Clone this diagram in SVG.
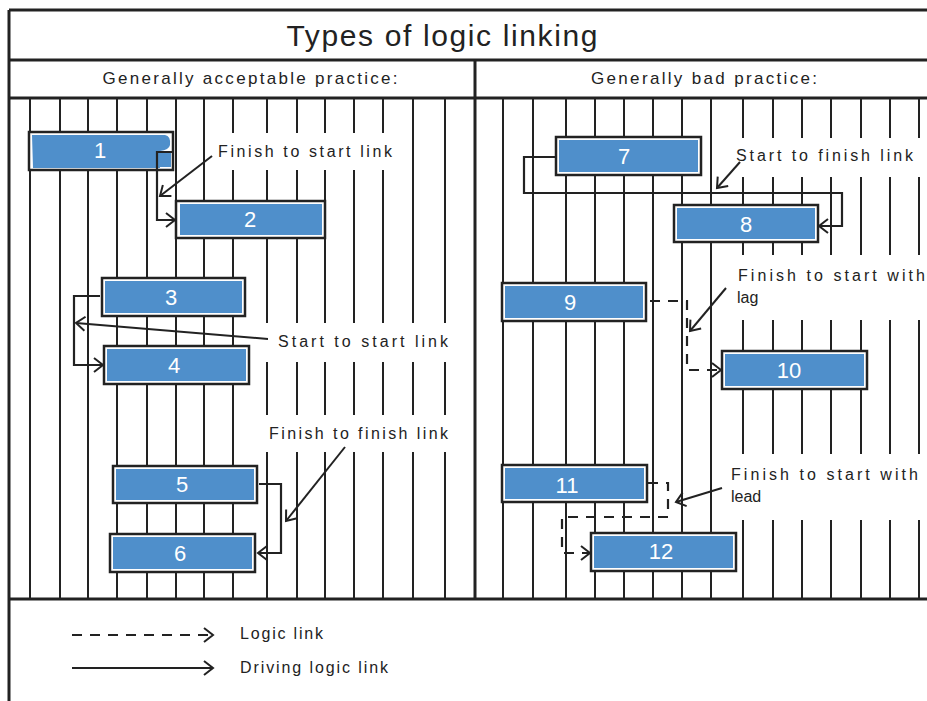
<svg xmlns="http://www.w3.org/2000/svg" width="927" height="701" viewBox="0 0 927 701">
<style>
.grid{stroke:#222;stroke-width:2}
.frame{stroke:#222;stroke-width:3;fill:none}
.bar{fill:#fff;stroke:#222;stroke-width:2.5}
.blue{fill:#4f8fcb}
.num{font-family:"Liberation Sans",Arial,sans-serif;font-size:22px;fill:#fff;text-anchor:middle}
.lbl{font-family:"Liberation Sans",Arial,sans-serif;font-size:16px;fill:#222}
.hdr{font-family:"Liberation Sans",Arial,sans-serif;font-size:17px;fill:#222}
.ttl{font-family:"Liberation Sans",Arial,sans-serif;font-size:30px;fill:#222}
.link{fill:none;stroke:#222;stroke-width:2.2}
.dash{fill:none;stroke:#222;stroke-width:2.2;stroke-dasharray:10 8}
.note{fill:none;stroke:#222;stroke-width:2}
.mask{fill:#fff}
</style>
<defs>
<marker id="arr" markerUnits="userSpaceOnUse" markerWidth="14" markerHeight="16" refX="11" refY="8" orient="auto">
<path d="M2,1 L11,8 L2,15" fill="none" stroke="#222" stroke-width="2"/>
</marker>
</defs>
<rect width="927" height="701" fill="#fff"/>
<g id="grid">
<g class="grid">
<path d="M30,98V599M60,98V599M88,98V599M117,98V599M147,98V599M176,98V599M204,98V599M233,98V599M267,98V599M297,98V599M325,98V599M354,98V599M383,98V599M413,98V599M445,98V599"/>
<path d="M503,98V599M533,98V599M566,98V599M595,98V599M624,98V599M653,98V599M682,98V599M711,98V599M743,98V599M773,98V599M802,98V599M831,98V599M861,98V599M890,98V599M919,98V599"/>
</g>
<rect class="mask" x="215" y="133" width="190" height="37"/>
<rect class="mask" x="262" y="323" width="208" height="39"/>
<rect class="mask" x="262" y="415" width="208" height="37"/>
<rect class="mask" x="725" y="138" width="202" height="39"/>
<rect class="mask" x="725" y="255" width="202" height="65"/>
<rect class="mask" x="725" y="454" width="202" height="66"/>
</g>
<g id="frame">
<path class="frame" d="M9,10H927M9,60H927M9,98H927M9,599H927M9,10V701M475,60V599"/>
<text class="ttl" x="442" y="46" text-anchor="middle" textLength="311" lengthAdjust="spacing">Types of logic linking</text>
<text class="hdr" x="250" y="84" text-anchor="middle" textLength="295" lengthAdjust="spacing">Generally acceptable practice:</text>
<text class="hdr" x="704" y="84" text-anchor="middle" textLength="226" lengthAdjust="spacing">Generally bad practice:</text>
</g>
<g id="n1"><rect class="bar" x="29" y="132" width="144" height="38"/><path class="blue" d="M32,135H165Q171,136 170,145Q169,150 160,151V168H33Z"/><rect class="blue" x="159" y="153" width="12" height="14"/><text class="num" x="100" y="158">1</text></g>
<g id="n2"><rect class="bar" x="176" y="201" width="149" height="37"/><rect class="blue" x="180" y="204" width="142" height="31"/><text class="num" x="250" y="227">2</text></g>
<g id="n3"><rect class="bar" x="102" y="278" width="143" height="38"/><rect class="blue" x="105" y="281" width="137" height="32"/><text class="num" x="171" y="305">3</text></g>
<g id="n4"><rect class="bar" x="104" y="346" width="145" height="38"/><rect class="blue" x="107" y="349" width="139" height="32"/><text class="num" x="174" y="373">4</text></g>
<g id="n5"><rect class="bar" x="113" y="466" width="144" height="37"/><rect class="blue" x="116" y="469" width="138" height="31"/><text class="num" x="182" y="492">5</text></g>
<g id="n6"><rect class="bar" x="110" y="534" width="145" height="38"/><rect class="blue" x="113" y="537" width="139" height="32"/><text class="num" x="180" y="561">6</text></g>
<g id="n7"><rect class="bar" x="556" y="137" width="145" height="38"/><rect class="blue" x="559" y="140" width="139" height="32"/><text class="num" x="624" y="164">7</text></g>
<g id="n8"><rect class="bar" x="674" y="205" width="144" height="37"/><rect class="blue" x="677" y="208" width="138" height="31"/><text class="num" x="746" y="232">8</text></g>
<g id="n9"><rect class="bar" x="502" y="283" width="144" height="38"/><rect class="blue" x="505" y="286" width="138" height="32"/><text class="num" x="570" y="310">9</text></g>
<g id="n10"><rect class="bar" x="722" y="351" width="145" height="38"/><rect class="blue" x="725" y="354" width="139" height="32"/><text class="num" x="789" y="378">10</text></g>
<g id="n11"><rect class="bar" x="502" y="465" width="145" height="37"/><rect class="blue" x="505" y="468" width="139" height="31"/><text class="num" x="567" y="493">11</text></g>
<g id="n12"><rect class="bar" x="591" y="533" width="145" height="38"/><rect class="blue" x="594" y="536" width="139" height="32"/><text class="num" x="661" y="559">12</text></g>
<g id="connectors">
<path class="link" d="M172,152H157V220H175" marker-end="url(#arr)"/>
<path class="link" d="M100,296H74V365H103" marker-end="url(#arr)"/>
<path class="link" d="M259,484H281V553H258" marker-end="url(#arr)"/>
<path class="link" d="M556,157H524V193H842V226H819" marker-end="url(#arr)"/>
<path class="dash" d="M650,301H687V370H721" marker-end="url(#arr)"/>
<path class="dash" d="M648,483H668V517H562V553H590" marker-end="url(#arr)"/>
<path class="note" d="M212,156L160,196" marker-end="url(#arr)"/>
<path class="note" d="M268,339L76,323" marker-end="url(#arr)"/>
<path class="note" d="M345,447L286,521" marker-end="url(#arr)"/>
<path class="note" d="M740,162L717,188" marker-end="url(#arr)"/>
<path class="note" d="M726,288L690,331" marker-end="url(#arr)"/>
<path class="note" d="M722,488L676,502" marker-end="url(#arr)"/>
</g>
<g id="labels">
<text class="lbl" x="218" y="157" textLength="174" lengthAdjust="spacing">Finish to start link</text>
<text class="lbl" x="278" y="347" textLength="170" lengthAdjust="spacing">Start to start link</text>
<text class="lbl" x="269" y="439" textLength="179" lengthAdjust="spacing">Finish to finish link</text>
<text class="lbl" x="736" y="161" textLength="177" lengthAdjust="spacing">Start to finish link</text>
<text class="lbl" x="738" y="281" textLength="187" lengthAdjust="spacing">Finish to start with</text>
<text class="lbl" x="737" y="303">lag</text>
<text class="lbl" x="731" y="480" textLength="187" lengthAdjust="spacing">Finish to start with</text>
<text class="lbl" x="731" y="502">lead</text>
</g>
<g id="legend">
<path class="dash" d="M72,635H213" marker-end="url(#arr)"/>
<path class="link" d="M72,668H213" marker-end="url(#arr)"/>
<text class="lbl" x="240" y="639" textLength="83" lengthAdjust="spacing">Logic link</text>
<text class="lbl" x="240" y="673" textLength="148" lengthAdjust="spacing">Driving logic link</text>
</g>
</svg>
